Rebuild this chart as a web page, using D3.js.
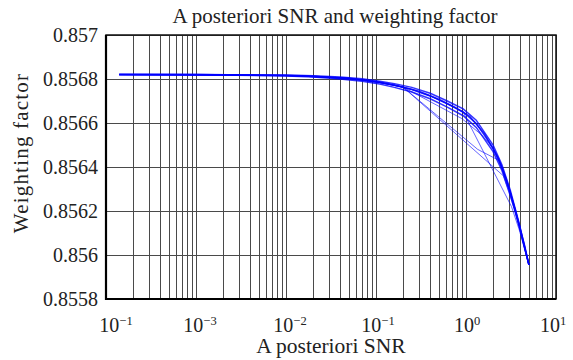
<!DOCTYPE html>
<html>
<head>
<meta charset="utf-8">
<script src="https://cdn.jsdelivr.net/npm/d3@7"></script>
<style>
  body { margin: 0; background: #fff; }
  text { font-family: "Liberation Serif", "Times New Roman", serif; fill: #222; }
</style>
</head>
<body>
<div id="chart"></div>
<script>
// tick values and labels, copied as printed in the figure
const xTickValues = [1e-4, 1e-3, 1e-2, 1e-1, 1, 10];
const xTickExponents = ["−1", "−3", "−2", "−1", "0", "1"];
const yTickValues = [0.8558, 0.856, 0.8562, 0.8564, 0.8566, 0.8568, 0.857];
const yTickLabels = ["0.8558", "0.856", "0.8562", "0.8564", "0.8566", "0.8568", "0.857"];

// each series: snr values and weighting factor, in plotting order
const snrA = [0.00014, 0.001, 0.01, 0.02, 0.04, 0.07, 0.11, 0.16, 0.25, 0.4, 0.62, 0.93, 1.3, 2.0, 2.5, 3.1, 3.9, 5.0];
const wA = [0.85682, 0.85682, 0.856816, 0.856812, 0.856805, 0.856796, 0.856784, 0.856771, 0.856752, 0.856723, 0.856687, 0.85665, 0.856598, 0.856486, 0.856399, 0.856287, 0.856137, 0.855955];

const snrB = [0.00014, 0.001, 0.01, 0.02, 0.04, 0.07, 0.11, 0.16, 0.25, 0.4, 0.62, 0.93, 1.3, 2.0, 2.5, 3.1, 3.9, 5.0];
const wB = [0.85682, 0.85682, 0.856818, 0.856815, 0.856809, 0.856801, 0.85679, 0.856779, 0.856762, 0.856735, 0.8567, 0.856664, 0.856613, 0.8565, 0.856411, 0.856296, 0.856143, 0.855955];

const snrC = [0.00014, 0.001, 0.01, 0.02, 0.04, 0.07, 0.11, 0.16, 0.25, 0.4, 0.62, 0.93, 1.3, 2.0, 2.5, 3.1, 3.9, 5.0];
const wC = [0.85682, 0.856819, 0.856814, 0.856809, 0.8568, 0.85679, 0.856777, 0.856762, 0.856741, 0.85671, 0.856672, 0.856633, 0.85658, 0.85647, 0.856385, 0.856276, 0.85613, 0.855955];

const snrD = [0.00014, 0.003, 0.015, 0.05, 0.1, 0.16, 0.3, 0.5, 0.75, 1.1, 1.6, 2.3, 2.8, 3.5, 4.5, 5.0];
const wD = [0.85682, 0.856819, 0.856815, 0.856803, 0.856789, 0.856774, 0.856745, 0.856708, 0.856672, 0.85663, 0.856552, 0.856438, 0.856345, 0.85621, 0.85604, 0.855955];

const snrE = [0.00014, 0.01, 0.05, 0.11, 0.2, 1.35, 2.3, 3.1, 3.9, 5.0];
const wE = [0.85682, 0.856816, 0.856803, 0.856784, 0.856763, 0.85648, 0.856431, 0.856287, 0.856137, 0.855955];

const snrF = [0.00014, 0.01, 0.05, 0.11, 0.2, 0.9, 1.5, 2.0, 2.5, 3.1, 3.9, 5.0];
const wF = [0.85682, 0.856816, 0.856803, 0.856784, 0.856763, 0.85662, 0.856545, 0.856486, 0.856399, 0.856287, 0.856137, 0.855955];

const snrG = [0.00014, 0.01, 0.05, 0.11, 0.2, 2.6, 3.5, 5.0];
const wG = [0.85682, 0.856816, 0.856803, 0.856784, 0.856763, 0.85636, 0.8562, 0.855955];

const snrH = [0.00014, 0.01, 0.05, 0.11, 0.16, 0.25, 0.4, 0.62, 0.93, 3.2, 3.9, 5.0];
const wH = [0.85682, 0.856816, 0.856803, 0.856784, 0.856771, 0.856752, 0.856723, 0.856687, 0.85665, 0.85622, 0.856115, 0.855955];

const snrSeries = [snrA, snrB, snrC, snrD, snrE, snrF, snrG, snrH];
const wSeries = [wA, wB, wC, wD, wE, wF, wG, wH];

const width = 573;
const height = 360;
const margin = { left: 106, right: 17, top: 35, bottom: 61 };

const svg = d3.select("#chart")
  .append("svg")
  .attr("width", width)
  .attr("height", height);

const x = d3.scaleLog()
  .domain([1e-4, 10])
  .range([margin.left, width - margin.right]);

const y = d3.scaleLinear()
  .domain([0.8558, 0.857])
  .range([height - margin.bottom, margin.top]);

// grid
const grid = svg.append("g").attr("stroke", "#4a4a4a").attr("stroke-width", 1);
grid.selectAll("line.v")
  .data(x.ticks())
  .enter()
  .append("line")
  .attr("class", "v")
  .attr("x1", d => Math.round(x(d)) + 0.5)
  .attr("x2", d => Math.round(x(d)) + 0.5)
  .attr("y1", margin.top)
  .attr("y2", height - margin.bottom);

grid.selectAll("line.h")
  .data(yTickValues)
  .enter()
  .append("line")
  .attr("class", "h")
  .attr("x1", margin.left)
  .attr("x2", width - margin.right)
  .attr("y1", d => Math.round(y(d)) + 0.5)
  .attr("y2", d => Math.round(y(d)) + 0.5);

// curves
const line = d3.line()
  .x(d => x(d[0]))
  .y(d => y(d[1]));

svg.append("g")
  .selectAll("path")
  .data(snrSeries.map((s, i) => s.map((v, j) => [v, wSeries[i][j]])))
  .enter()
  .append("path")
  .attr("d", line)
  .attr("fill", "none")
  .attr("stroke", "#0000ff")
  .attr("stroke-opacity", (d, i) => i < 4 ? 0.8 : 0.6)
  .attr("stroke-width", (d, i) => i < 4 ? 1.5 : 1);

// frame
svg.append("rect")
  .attr("x", margin.left)
  .attr("y", margin.top)
  .attr("width", width - margin.left - margin.right)
  .attr("height", height - margin.top - margin.bottom)
  .attr("fill", "none")
  .attr("stroke", "#111")
  .attr("stroke-width", 1.5);

svg.append("path")
  .attr("d", `M${margin.left},${margin.top}V${height - margin.bottom}H${width - margin.right}`)
  .attr("fill", "none")
  .attr("stroke", "#000")
  .attr("stroke-width", 2.2);

// y tick labels
svg.append("g")
  .selectAll("text")
  .data(yTickValues)
  .enter()
  .append("text")
  .attr("x", margin.left - 8)
  .attr("y", d => y(d) + 6.5)
  .attr("text-anchor", "end")
  .attr("font-size", 20)
  .text((d, i) => yTickLabels[i]);

// x tick labels with superscripts
const xShift = [10, 4, 4, 2, 1, -3];
const xl = svg.append("g")
  .selectAll("text")
  .data(xTickValues)
  .enter()
  .append("text")
  .attr("x", (d, i) => x(d) + xShift[i])
  .attr("y", 332)
  .attr("text-anchor", "middle")
  .attr("font-size", 20);
xl.append("tspan").text("10");
xl.append("tspan")
  .attr("dy", -7)
  .attr("font-size", 12.5)
  .text((d, i) => xTickExponents[i]);

// titles
svg.append("text")
  .attr("x", 335)
  .attr("y", 23)
  .attr("text-anchor", "middle")
  .attr("font-size", 21)
  .text("A posteriori SNR and weighting factor");

svg.append("text")
  .attr("x", 331)
  .attr("y", 353)
  .attr("text-anchor", "middle")
  .attr("font-size", 21.5)
  .text("A posteriori SNR");

svg.append("text")
  .attr("transform", "translate(28,153) rotate(-90)")
  .attr("text-anchor", "middle")
  .attr("font-size", 21)
  .attr("letter-spacing", 1.2)
  .text("Weighting factor");
</script>
</body>
</html>
